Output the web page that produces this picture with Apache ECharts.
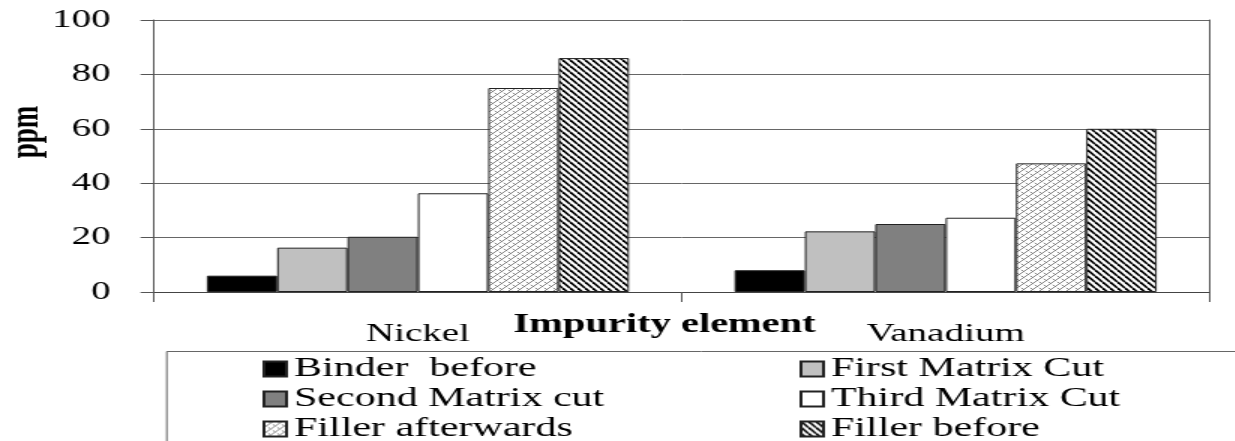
<!DOCTYPE html>
<html>
<head>
<meta charset="utf-8">
<script src="https://cdn.jsdelivr.net/npm/echarts@6/dist/echarts.min.js"></script>
<style>
  html, body { margin: 0; padding: 0; background: #fff; overflow: hidden; }
  /* the source picture is stretched sideways, so the chart is drawn narrow and widened */
  #chart { width: 823.33px; height: 441px; transform: scaleX(1.5); transform-origin: 0 0; }
</style>
</head>
<body>
<div id="chart"></div>
<script>
// data
var categories = ['Nickel', 'Vanadium'];
var seriesNames = ['Binder  before', 'First Matrix Cut', 'Second Matrix cut',
                   'Third Matrix Cut', 'Filler afterwards', 'Filler before'];
var binderBefore = [6, 8];
var firstMatrixCut = [16.3, 22.3];
var secondMatrixCut = [20.3, 25];
var thirdMatrixCut = [36.3, 27.3];
var fillerAfterwards = [75, 47.3];
var fillerBefore = [86, 60];
var yMin = 0, yMax = 100, yStep = 20;

var legendLeftCol = [seriesNames[0], seriesNames[2], seriesNames[4]];
var legendRightCol = [seriesNames[1], seriesNames[3], seriesNames[5]];

var serif = "'Liberation Serif'";

function stripeTile(){
  var c = document.createElement('canvas');
  c.width = 5; c.height = 6;
  var ctx = c.getContext('2d');
  ctx.fillStyle = '#fff';
  ctx.fillRect(0, 0, 5, 6);
  ctx.strokeStyle = '#000';
  ctx.lineWidth = 1.7;
  [-5, 0, 5].forEach(function(o){
    ctx.beginPath(); ctx.moveTo(o, 0); ctx.lineTo(o + 5, 6); ctx.stroke();
  });
  return c;
}
function weaveTile(){
  var c = document.createElement('canvas');
  c.width = 6; c.height = 6;
  var ctx = c.getContext('2d');
  ctx.fillStyle = '#fff';
  ctx.fillRect(0, 0, 6, 6);
  ctx.strokeStyle = '#666';
  ctx.lineWidth = 0.8;
  [-6, 0, 6].forEach(function(o){
    ctx.beginPath(); ctx.moveTo(o, 6); ctx.lineTo(o + 6, 0); ctx.stroke();
  });
  ctx.beginPath(); ctx.moveTo(0, 3); ctx.lineTo(2.2, 5.2); ctx.stroke();
  ctx.beginPath(); ctx.moveTo(3, 0); ctx.lineTo(5.2, 2.2); ctx.stroke();
  return c;
}

var fills = ['#000', '#c0c0c0', '#808080', '#fff',
  { image: weaveTile(), repeat: 'repeat' },
  { image: stripeTile(), repeat: 'repeat' }];
var values = [binderBefore, firstMatrixCut, secondMatrixCut, thirdMatrixCut, fillerAfterwards, fillerBefore];

var series = seriesNames.map(function(name, i){
  return {
    name: name,
    type: 'bar',
    yAxisIndex: 0,
    barGap: '0%',
    barCategoryGap: '20%',
    data: values[i],
    itemStyle: { color: fills[i], borderColor: '#222', borderWidth: 1 }
  };
});

var legendText = { fontFamily: serif, fontSize: 28, color: '#000', lineHeight: 28 };

var chart = echarts.init(document.getElementById('chart'), null, { renderer: 'canvas', devicePixelRatio: 1 });
chart.setOption({
  animation: false,
  backgroundColor: '#fff',
  grid: { left: 102.7, right: 16.7, top: 20, bottom: 149, containLabel: false },
  xAxis: {
    type: 'category',
    data: categories,
    axisLine: { show: true, lineStyle: { color: '#444', width: 1 } },
    axisTick: { show: true, length: 10, lineStyle: { color: '#555' } },
    axisLabel: { fontFamily: serif, fontSize: 26, color: '#000', margin: 29 },
    splitLine: { show: false }
  },
  yAxis: [{
    type: 'value',
    min: yMin, max: yMax, interval: yStep,
    axisLine: { show: true, lineStyle: { color: '#555', width: 1 } },
    axisTick: { show: true, length: 9, lineStyle: { color: '#555' } },
    axisLabel: { fontFamily: serif, fontSize: 26, color: '#000', margin: 29 },
    splitLine: { show: true, lineStyle: { color: '#666', width: 1 } }
  }, {
    type: 'value',
    position: 'right',
    min: yMin, max: yMax, interval: yStep,
    axisLine: { show: true, lineStyle: { color: '#555', width: 1 } },
    axisTick: { show: false },
    axisLabel: { show: false },
    splitLine: { show: false }
  }],
  legend: [{
    data: legendLeftCol,
    orient: 'vertical',
    left: 175, top: 355, height: 120,
    padding: 0,
    itemGap: 2,
    icon: 'rect',
    itemWidth: 15, itemHeight: 15,
    textStyle: legendText
  }, {
    data: legendRightCol,
    orient: 'vertical',
    left: 533, top: 355, height: 120,
    padding: 0,
    itemGap: 2,
    icon: 'rect',
    itemWidth: 15, itemHeight: 15,
    textStyle: legendText
  }],
  graphic: [{
    type: 'rect',
    left: 108.7, top: 349,
    shape: { width: 800, height: 200 },
    style: { fill: 'none', stroke: '#666', lineWidth: 1 },
    silent: true
  }, {
    type: 'text',
    x: 443, y: 325,
    style: {
      text: 'Impurity element',
      fontFamily: serif, fontSize: 27, fontWeight: 'bold', fill: '#000',
      align: 'center', verticalAlign: 'middle'
    },
    silent: true
  }, {
    type: 'text',
    x: 18, y: 132,
    rotation: Math.PI / 2,
    style: {
      text: 'ppm',
      fontFamily: serif, fontSize: 27, fontWeight: 'bold', fill: '#000',
      align: 'center', verticalAlign: 'middle'
    },
    silent: true
  }],
  series: series
});
</script>
</body>
</html>
